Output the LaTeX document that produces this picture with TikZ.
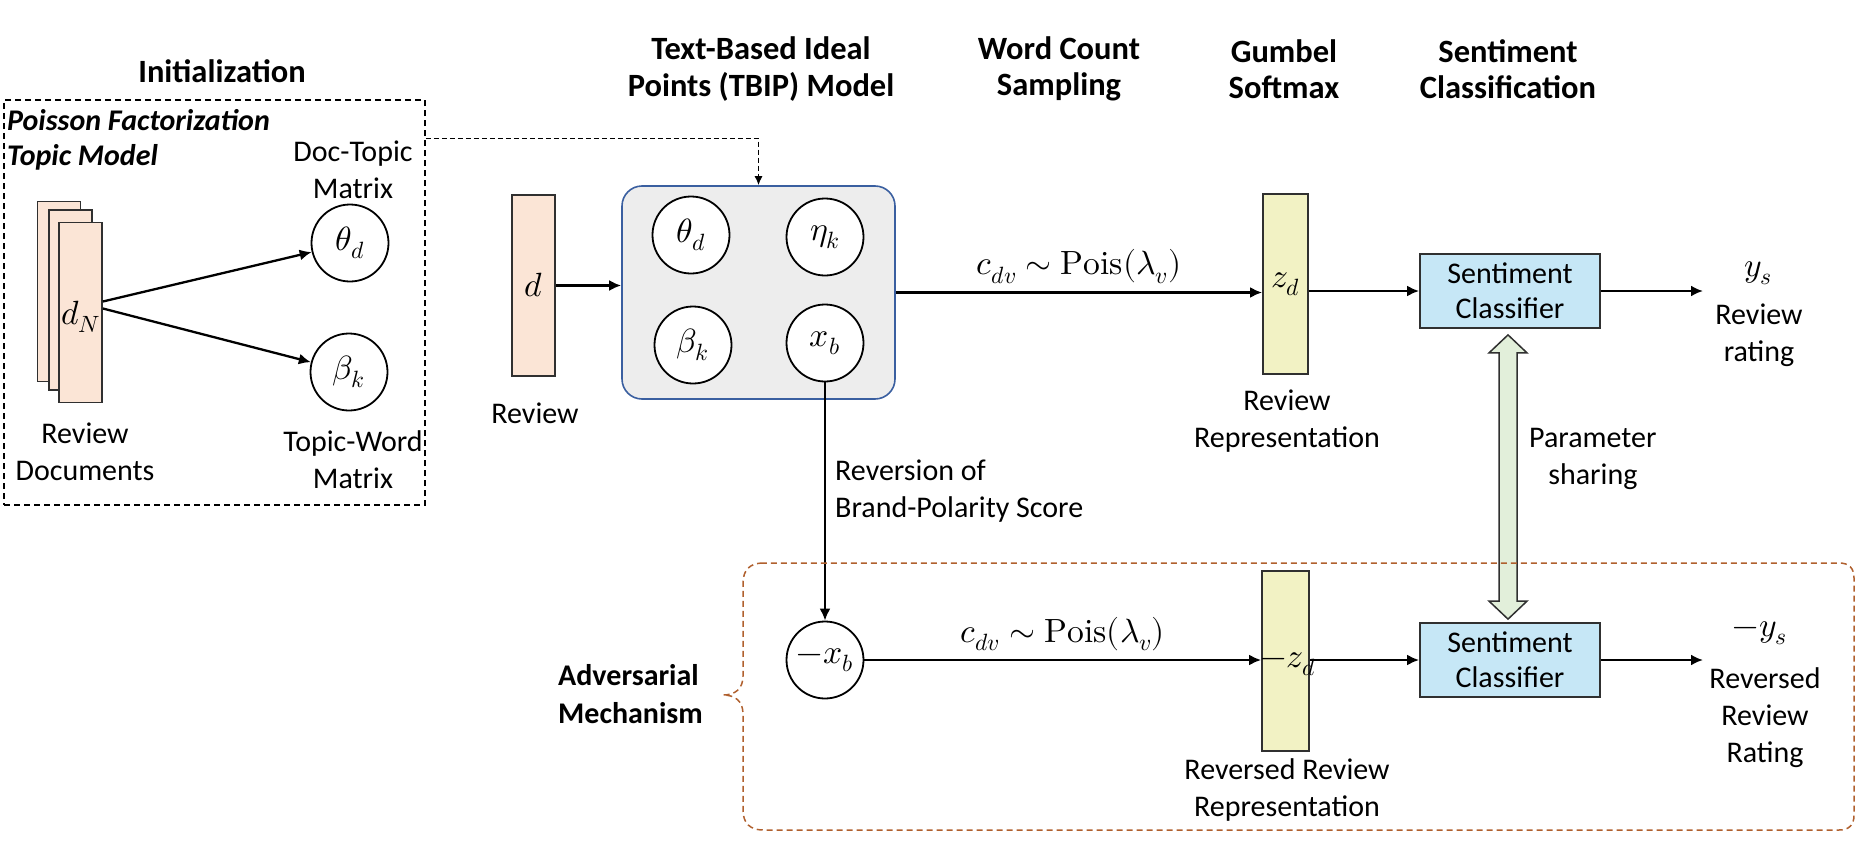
\documentclass[tikz,border=0pt]{standalone}
\usepackage{fontspec}
\usepackage{unicode-math}
\setmainfont{Carlito}
\setmathfont{Latin Modern Math}[Scale=1.12]
\usetikzlibrary{arrows.meta,calc}
\definecolor{peach}{HTML}{FBE5D6}
\definecolor{zyellow}{HTML}{F2F2C4}
\definecolor{sblue}{HTML}{C6E7F6}
\definecolor{pgreen}{HTML}{E2EFDA}
\definecolor{advbrown}{HTML}{B0602E}
\definecolor{tbipborder}{HTML}{3A5FA0}
\definecolor{tbipfill}{HTML}{EDEDED}
\definecolor{edgegray}{HTML}{303030}
\begin{document}
\begin{tikzpicture}[x=1pt,y=-1pt,
  font=\fontsize{30}{37}\selectfont,
  hdr/.style={font=\fontsize{32.5}{32.5}\selectfont\bfseries, align=center, inner sep=0pt},
  txt/.style={align=center, inner sep=0pt},
  arr/.style={-{Latex[length=12pt,width=11pt]}, line width=2.3pt},
  dasharr/.style={-{Latex[length=9pt,width=8pt]}, line width=1.4pt, dash pattern=on 5pt off 3pt},
  circ/.style={circle, draw, line width=1.8pt, fill=white, minimum size=77pt, inner sep=0pt},
  docrect/.style={draw=edgegray, line width=1.8pt, fill=peach, minimum width=43pt, minimum height=180pt, inner sep=0pt},
  zrect/.style={draw=edgegray, line width=1.8pt, fill=zyellow, minimum width=45pt, minimum height=180pt, inner sep=0pt},
  sbox/.style={draw=edgegray, line width=1.8pt, fill=sblue, minimum width=180pt, minimum height=74pt, align=center, inner sep=0pt, font=\fontsize{30}{35}\selectfont}
]
\useasboundingbox (0,0) rectangle (1857,867);

% headers
\node[hdr] (tInit) at (222,71) {Initialization};
\node[hdr] (tTBIP) at (761,69) {Text-Based Ideal\\[4pt]Points (TBIP) Model};
\node[hdr] (tWC) at (1059,69) {Word Count\\[4pt]Sampling};
\node[hdr] (tGS) at (1284,69) {Gumbel\\[4pt]Softmax};
\node[hdr] (tSC) at (1508,69) {Sentiment\\[4pt]Classification};

% initialization box
\node[draw, line width=1.5pt, dash pattern=on 6pt off 4pt, minimum width=421pt, minimum height=405pt, inner sep=0pt] (init) at (214.5,302.5) {};
\node[anchor=west, font=\fontsize{30}{37}\selectfont\bfseries\itshape, inner sep=0pt] (pf1) at (7,120) {Poisson Factorization};
\node[anchor=west, font=\fontsize{30}{37}\selectfont\bfseries\itshape, inner sep=0pt] (pf2) at (7,157) {Topic Model};

\node[docrect] (doc3) at (59,291.5) {};
\node[docrect] (doc2) at (70.5,300) {};
\node[docrect] (doc1) at (80.5,312.5) {};
\node[inner sep=0pt] (dN) at (81,317) {$d_N$};
\node[txt] (revdocs) at (85,452) {Review\\Documents};

\node[circ] (th1) at (350,243) {$\theta_d$};
\node[circ] (be1) at (349,372) {$\beta_k$};
\node[txt] (dtm) at (353,170) {Doc-Topic\\Matrix};
\node[txt] (twm) at (353,460) {Topic-Word\\Matrix};

\coordinate (s1) at ($(doc1.east)+(0,-11)$);
\coordinate (s2) at ($(doc1.east)+(0,-4)$);
\draw[arr] (s1) -- (th1);
\draw[arr] (s2) -- (be1);

% review d
\node[docrect, minimum height=181pt] (d) at (533.5,285.5) {$d$};
\node[txt] (revlab) at (535,413) {Review};

% TBIP box
\node[draw=tbipborder, line width=1.6pt, fill=tbipfill, rounded corners=20pt, minimum width=273pt, minimum height=213pt, inner sep=0pt] (tbip) at (758.5,292.5) {};
\node[circ] (th2) at (691,235) {$\theta_d$};
\node[circ] (eta) at (825,237) {$\eta_k$};
\node[circ] (be2) at (693,345) {$\beta_k$};
\node[circ] (xb) at (825,343) {$x_b$};

\draw[dasharr] ($(init.north east)+(0,39)$) -| (tbip.north);
\draw[arr] (d.east) -- (d.east -| tbip.west);

% top row
\node[zrect] (zd) at (1285.5,284) {$z_d$};
\node[txt] (zdlab) at (1287,421.5) {Review\\Representation};
\draw[arr] (tbip.east) -- node[midway, above=8pt, inner sep=0pt] (lab1) {$c_{dv}\sim\symup{Pois}(\lambda_v)$} (tbip.east -| zd.west);

\node[sbox] (sc1) at (1510,291) {Sentiment\\Classifier};
\draw[arr] (zd.east |- sc1.west) -- (sc1.west);
\coordinate (ye1) at (1703,291);
\draw[arr] (sc1.east) -- (ye1);
\node[inner sep=0pt] (ys) at (1758,273) {$y_s$};
\node[txt] (rr) at (1759,335) {Review\\rating};

% reversion
\node[circ] (nxb) at (825,660) {$-x_b$};
\draw[arr] (xb) -- (nxb);
\node[anchor=west, align=left, inner sep=0pt] (revlab2) at (835,491) {Reversion of\\Brand-Polarity Score};

% lower row
\node[zrect, minimum width=47pt] (nzd) at (1285.5,661) {};
\node[inner sep=0pt] (nzdlab) at (1288,664) {$-z_d$};
\draw[arr] (nxb.east) -- node[midway, above=8pt, inner sep=0pt] (lab2) {$c_{dv}\sim\symup{Pois}(\lambda_v)$} (nxb.east -| nzd.west);
\node[txt] (nzdtxt) at (1287,790) {Reversed Review\\Representation};

\node[sbox] (sc2) at (1510,660) {Sentiment\\Classifier};
\draw[arr] (nzd.east |- sc2.west) -- (sc2.west);
\coordinate (ye2) at (1703,660);
\draw[arr] (sc2.east) -- (ye2);
\node[inner sep=0pt] (nys) at (1760,633) {$-y_s$};
\node[txt] (rrr) at (1765,718) {Reversed\\Review\\Rating};

% parameter sharing double arrow
\coordinate (pt) at ($(sc1.south)+(-2,6)$);
\coordinate (pb) at ($(sc2.north)+(-2,-3)$);
\draw[fill=pgreen, draw=edgegray, line width=1.5pt, line join=miter]
  (pt) -- ++(19,18) -- ++(-10,0) -- ($(pb)+(9,-18)$) -- ++(10,0) -- (pb)
  -- ++(-19,-18) -- ++(10,0) -- ($(pt)+(-9,18)$) -- ++(-10,0) -- cycle;
\node[anchor=west, align=center, inner sep=0pt] (ps) at (1529,459) {Parameter\\sharing};

% adversarial region
\draw[advbrown, line width=1.5pt, dash pattern=on 6pt off 4pt]
  (763,563) .. controls (750,563) and (743,570) .. (743,583) -- (743,676)
  .. controls (743,689) and (735,695) .. (723,695)
  .. controls (735,695) and (743,701) .. (743,714) -- (743,810)
  .. controls (743,823) and (750,830) .. (763,830) -- (1839,830)
  .. controls (1849,830) and (1854,825) .. (1854,815) -- (1854,578)
  .. controls (1854,568) and (1849,563) .. (1839,563) -- cycle;
\node[anchor=west, align=left, inner sep=0pt, font=\fontsize{30}{38}\selectfont\bfseries] (adv) at (558,694) {Adversarial\\Mechanism};
\end{tikzpicture}
\end{document}
